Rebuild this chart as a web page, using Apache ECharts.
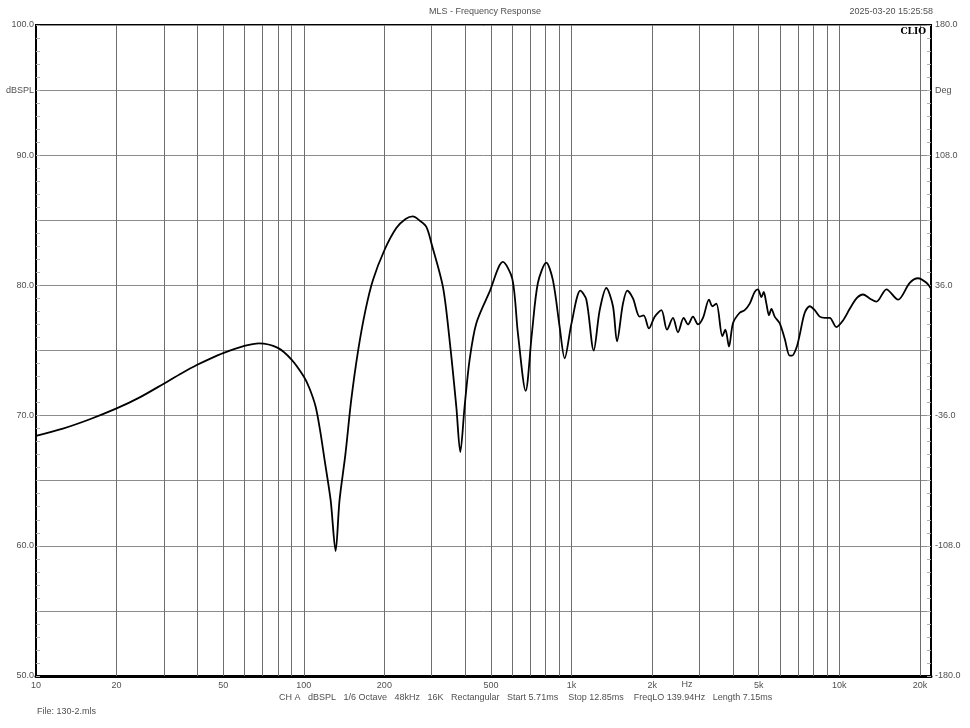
<!DOCTYPE html>
<html><head><meta charset="utf-8">
<script src="https://cdn.jsdelivr.net/npm/echarts@6/dist/echarts.min.js"></script>
<style>html,body{margin:0;padding:0;background:#fff}#c{width:970px;height:728px}</style>
</head><body><div id="c"></div>
<script>
const freqHz = [
 10, 12.6, 15.8, 20, 24.4, 30, 35, 40, 45, 50, 60, 68,
 80, 90, 100, 105, 110.7, 115, 119.6, 126, 131.5, 136, 143, 150.4,
 159.3, 170, 181.2, 200, 221.6, 240, 255.6, 270, 286.9, 300, 330.8, 350.4,
 371.2, 384.2, 398.7, 416.3, 441, 494, 554, 601, 630.7, 674,
 711, 749, 805, 852, 903, 942.6, 1000, 1079, 1136, 1210,
 1274, 1349, 1428, 1478, 1556, 1616, 1696, 1796, 1859, 1946,
 2044, 2165, 2272, 2392, 2497, 2623, 2722, 2841, 2966, 3096,
 3262, 3357, 3474, 3658, 3754, 3873, 4008, 4246, 4432, 4628,
 4831, 4967, 5117, 5219, 5342, 5463, 5577, 5737, 5986, 6254,
 6527, 6658, 6915, 7114, 7427, 7752, 8093, 8450, 8822, 9207,
 9750, 10320, 10940, 11594, 12260, 12990, 13757, 14996, 16571, 18322,
 19679, 21160, 22000
];
const splDb = [
 68.45, 69.0, 69.7, 70.55, 71.4, 72.45, 73.25, 73.9, 74.4, 74.8, 75.35, 75.55,
 75.2, 74.3, 73.0, 72.1, 70.7, 68.9, 66.6, 63.5, 59.6, 63.5, 67.0, 71.2,
 74.9, 78.1, 80.4, 82.7, 84.4, 85.1, 85.3, 85.0, 84.5, 83.2, 79.9, 75.8,
 70.7, 67.2, 70.7, 74.3, 77.1, 79.5, 81.8, 80.5, 76.3, 71.9,
 76.3, 80.2, 81.75, 80.4, 76.8, 74.4, 77.1, 79.6, 78.9, 75.0,
 78.1, 79.8, 78.4, 75.7, 78.6, 79.6, 79.0, 77.6, 77.7, 76.7,
 77.6, 78.1, 76.6, 77.5, 76.4, 77.5, 77.0, 77.6, 77.0, 77.5,
 78.9, 78.4, 78.6, 76.1, 76.6, 75.3, 77.1, 77.9, 78.1, 78.6,
 79.5, 79.7, 79.1, 79.5, 78.6, 77.7, 78.2, 77.6, 77.1, 75.9,
 74.6, 74.6, 75.2, 76.2, 77.9, 78.4, 78.1, 77.6, 77.5, 77.5,
 76.8, 77.3, 78.2, 79.0, 79.3, 79.0, 78.75, 79.7, 78.9, 80.2,
 80.55, 80.2, 79.75
];
const gridFreqs = [20,30,40,50,60,70,80,90,100,200,300,400,500,600,700,800,900,
  1000,2000,3000,4000,5000,6000,7000,8000,9000,10000,20000];
const xTickLabels = [10,20,50,100,200,500,1000,2000,5000,10000,20000];
const titleText = 'MLS - Frequency Response';
const dateText = '2025-03-20 15:25:58';
const infoText = 'CH A   dBSPL   1/6 Octave   48kHz   16K   Rectangular   Start 5.71ms    Stop 12.85ms    FreqLO 139.94Hz   Length 7.15ms';
const fileText = 'File: 130-2.mls';

const FONT = 'Liberation Sans, Arial, sans-serif';
const LBL = '#505050';
const chart = echarts.init(document.getElementById('c'), null, {renderer:'canvas'});
const fmtF = v => v >= 1000 ? (v/1000) + 'k' : String(v);
chart.setOption({
  animation: false,
  backgroundColor: '#fff',
  grid: {left: 36, right: 39, top: 25, bottom: 52, show: true, borderColor: '#000', borderWidth: 2},
  xAxis: {
    type: 'log', logBase: 10, min: 10, max: 22000,
    axisLine: {show: true, onZero: false, lineStyle: {color: '#000', width: 3}},
    axisTick: {show: false},
    splitLine: {show: false},
    axisLabel: {customValues: xTickLabels, formatter: fmtF, fontSize: 9, color: LBL, fontFamily: FONT, margin: 5}
  },
  yAxis: [{
    type: 'value', min: 50, max: 100, interval: 5, position: 'left',
    axisLine: {show: true, lineStyle: {color: '#000', width: 2}},
    axisTick: {show: true, inside: true, length: 4, lineStyle: {color: '#b0b0b0'}},
    minorTick: {show: true, splitNumber: 5, length: 4, lineStyle: {color: '#b0b0b0'}},
    splitLine: {show: true, lineStyle: {color: '#8c8c8c', width: 1}},
    axisLabel: {fontSize: 9, color: LBL, fontFamily: FONT, margin: 2,
      formatter: v => v === 95 ? 'dBSPL' : (v % 10 === 0 ? v.toFixed(1) : '')}
  }, {
    type: 'value', min: -180, max: 180, interval: 36, position: 'right',
    axisLine: {show: true, onZero: false, lineStyle: {color: '#000', width: 1.5}},
    axisTick: {show: true, inside: true, length: 4, lineStyle: {color: '#b0b0b0'}},
    minorTick: {show: true, splitNumber: 5, length: 4, lineStyle: {color: '#b0b0b0'}},
    splitLine: {show: false},
    axisLabel: {fontSize: 9, color: LBL, fontFamily: FONT, margin: 4,
      formatter: v => v === 144 ? 'Deg' : ((v + 180) % 72 === 0 ? v.toFixed(1) : '')}
  }],
  series: [{
    type: 'line', yAxisIndex: 0,
    data: freqHz.map((f, i) => [f, splDb[i]]),
    showSymbol: false, smooth: 0.3,
    lineStyle: {color: '#000', width: 1.8},
    z: 5,
    markLine: {
      silent: true, symbol: 'none', animation: false,
      label: {show: false},
      lineStyle: {color: '#6e6e6e', width: 1, type: 'solid'},
      data: gridFreqs.map(f => ({xAxis: f}))
    }
  }],
  graphic: [
    {type: 'text', left: 'center', top: 7, style: {text: titleText, font: '9px ' + FONT, fill: LBL}},
    {type: 'text', right: 37, top: 7, style: {text: dateText, font: '9px ' + FONT, fill: LBL}},
    {type: 'text', right: 44, top: 27, z: 10, style: {text: 'CLIO', font: 'bold 9px DejaVu Serif, serif', fill: '#000'}},
    {type: 'text', x: 687, y: 680, style: {text: 'Hz', font: '9px ' + FONT, fill: LBL, align: 'center'}},
    {type: 'text', x: 279, y: 693, style: {text: infoText, font: '9px ' + FONT, fill: LBL}},
    {type: 'text', x: 37, y: 707, style: {text: fileText, font: '9px ' + FONT, fill: LBL}}
  ]
});
</script></body></html>
